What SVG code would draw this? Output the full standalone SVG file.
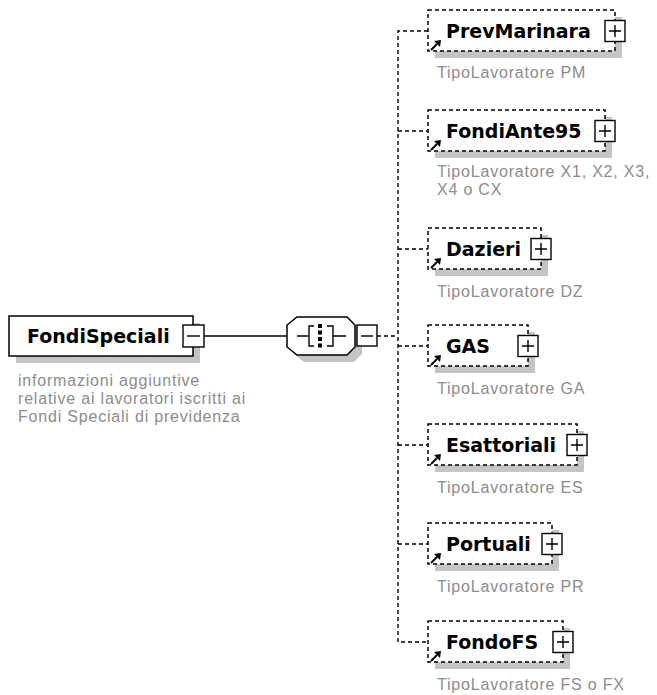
<svg xmlns="http://www.w3.org/2000/svg" width="657" height="695" viewBox="0 0 657 695">
<style>
.shadow{fill:#c4c4c4}
.box{fill:#fff;stroke:#000;stroke-width:1.5}
.opt{fill:#fff;stroke:#000;stroke-width:1.5;stroke-dasharray:4 3}
.name{font-family:"DejaVu Sans",Verdana,sans-serif;font-weight:bold;font-size:19px;fill:#000}
.desc{font-family:"Liberation Sans",Arial,sans-serif;font-size:16px;letter-spacing:0.8px;fill:#8c8c8c}
.conn{fill:none;stroke:#000;stroke-width:1.4}
.dash{stroke-dasharray:4 3}
.btn{fill:#fff;stroke:#000;stroke-width:1.4}
.sym{fill:none;stroke:#000;stroke-width:1.4}
.arr{fill:none;stroke:#000;stroke-width:2}
</style>
<rect width="657" height="695" fill="#fff"/>
<g id="connectors">
  <path class="conn" d="M204,336 H287"/>
  <path class="conn" d="M355,336 H357"/>
  <path class="conn dash" d="M377,336 H398"/>
  <path class="conn dash" d="M428,31 H398 V642 H428"/>
  <path class="conn dash" d="M398,131 H428"/>
  <path class="conn dash" d="M398,249 H428"/>
  <path class="conn dash" d="M398,346 H428"/>
  <path class="conn dash" d="M398,445 H428"/>
  <path class="conn dash" d="M398,544 H428"/>
</g>
<g id="FondiSpeciali">
  <rect class="shadow" x="16" y="323" width="184" height="40"/>
  <rect class="box" x="9" y="316" width="184" height="40"/>
  <text class="name" x="27" y="343">FondiSpeciali</text>
  <rect class="btn" x="183" y="325" width="21" height="22"/>
  <path class="sym" d="M187,336 H200"/>
  <text class="desc" x="18" y="385.5">informazioni aggiuntive</text>
  <text class="desc" x="18" y="403.5">relative ai lavoratori iscritti ai</text>
  <text class="desc" x="18" y="421.5">Fondi Speciali di previdenza</text>
</g>
<g id="sequence">
  <polygon class="shadow" points="304,324 354,324 362,332 362,354 354,362 304,362 294,354 294,332"/>
  <polygon class="box" points="297,317 347,317 355,325 355,347 347,355 297,355 287,347 287,325"/>
  <path class="sym" d="M297,336 H308 M314,326 H309 V346 H314 M327,326 H333 V346 H327 M333,336 H346"/>
  <path d="M320,324 V348" stroke="#000" stroke-width="4" stroke-dasharray="4 2.5"/>
  <rect class="btn" x="357" y="325" width="20" height="21"/>
  <path class="sym" d="M361,336 H373"/>
</g>
<g id="PrevMarinara">
  <rect class="shadow" x="435" y="17" width="187" height="41"/>
  <rect class="opt" x="428" y="10" width="187" height="41"/>
  <text class="name" x="446" y="38">PrevMarinara</text>
  <rect class="btn" x="605" y="20.5" width="20" height="21"/>
  <path class="sym" d="M609,31 H621 M615,25 V37"/>
  <path class="arr" d="M431,50 L437,44"/><polygon points="441,40 434,41 440,47"/>
  <text class="desc" x="437" y="78">TipoLavoratore PM</text>
</g>
<g id="FondiAnte95">
  <rect class="shadow" x="435" y="117" width="177" height="41"/>
  <rect class="opt" x="428" y="110" width="177" height="41"/>
  <text class="name" x="446" y="138">FondiAnte95</text>
  <rect class="btn" x="595" y="120.5" width="20" height="21"/>
  <path class="sym" d="M599,131 H611 M605,125 V137"/>
  <path class="arr" d="M431,150 L437,144"/><polygon points="441,140 434,141 440,147"/>
  <text class="desc" x="437" y="177">TipoLavoratore X1, X2, X3,</text>
  <text class="desc" x="437" y="195">X4 o CX</text>
</g>
<g id="Dazieri">
  <rect class="shadow" x="435" y="235" width="113" height="41"/>
  <rect class="opt" x="428" y="228" width="113" height="41"/>
  <text class="name" x="446" y="256">Dazieri</text>
  <rect class="btn" x="531" y="238.5" width="20" height="21"/>
  <path class="sym" d="M535,249 H547 M541,243 V255"/>
  <path class="arr" d="M431,268 L437,262"/><polygon points="441,258 434,259 440,265"/>
  <text class="desc" x="437" y="297">TipoLavoratore DZ</text>
</g>
<g id="GAS">
  <rect class="shadow" x="435" y="332" width="100" height="41"/>
  <rect class="opt" x="428" y="325" width="100" height="41"/>
  <text class="name" x="446" y="353">GAS</text>
  <rect class="btn" x="518" y="335.5" width="20" height="21"/>
  <path class="sym" d="M522,346 H534 M528,340 V352"/>
  <path class="arr" d="M431,365 L437,359"/><polygon points="441,355 434,356 440,362"/>
  <text class="desc" x="437" y="394">TipoLavoratore GA</text>
</g>
<g id="Esattoriali">
  <rect class="shadow" x="435" y="431" width="149" height="41"/>
  <rect class="opt" x="428" y="424" width="149" height="41"/>
  <text class="name" x="446" y="452">Esattoriali</text>
  <rect class="btn" x="567" y="434.5" width="20" height="21"/>
  <path class="sym" d="M571,445 H583 M577,439 V451"/>
  <path class="arr" d="M431,464 L437,458"/><polygon points="441,454 434,455 440,461"/>
  <text class="desc" x="437" y="493">TipoLavoratore ES</text>
</g>
<g id="Portuali">
  <rect class="shadow" x="435" y="530" width="124" height="41"/>
  <rect class="opt" x="428" y="523" width="124" height="41"/>
  <text class="name" x="446" y="551">Portuali</text>
  <rect class="btn" x="542" y="533.5" width="20" height="21"/>
  <path class="sym" d="M546,544 H558 M552,538 V550"/>
  <path class="arr" d="M431,563 L437,557"/><polygon points="441,553 434,554 440,560"/>
  <text class="desc" x="437" y="592">TipoLavoratore PR</text>
</g>
<g id="FondoFS">
  <rect class="shadow" x="435" y="628" width="135" height="41"/>
  <rect class="opt" x="428" y="621" width="135" height="41"/>
  <text class="name" x="446" y="649">FondoFS</text>
  <rect class="btn" x="553" y="631.5" width="20" height="21"/>
  <path class="sym" d="M557,642 H569 M563,636 V648"/>
  <path class="arr" d="M431,661 L437,655"/><polygon points="441,651 434,652 440,658"/>
  <text class="desc" x="437" y="690">TipoLavoratore FS o FX</text>
</g>
</svg>
